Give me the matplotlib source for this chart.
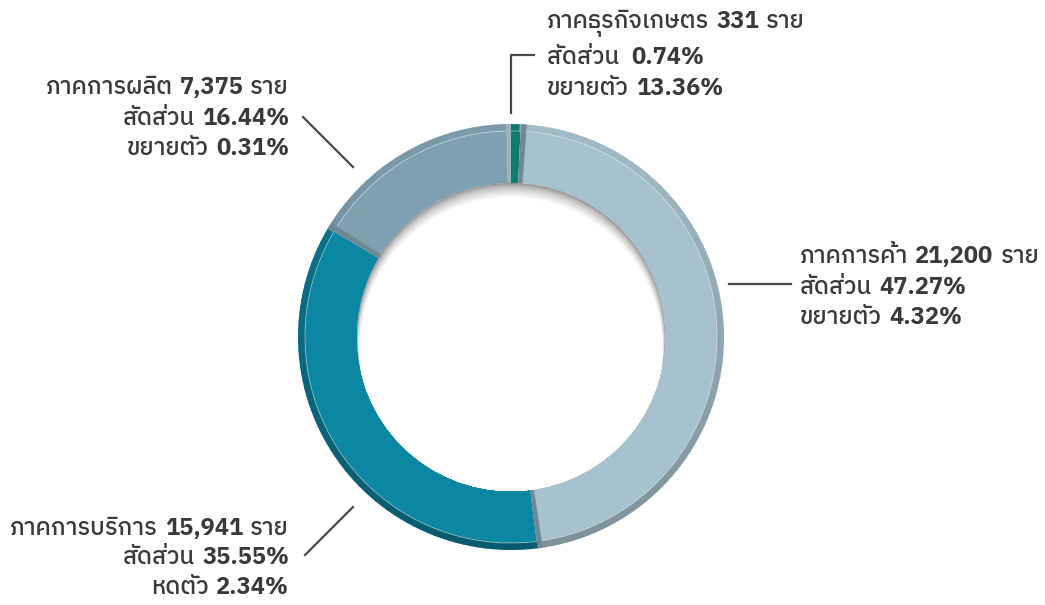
import numpy as np
import matplotlib
matplotlib.use("Agg")
import matplotlib.pyplot as plt
from matplotlib.patches import Wedge, Circle
from matplotlib.offsetbox import TextArea, HPacker, VPacker, AnnotationBbox
import matplotlib.colors as mcolors

# data, clockwise from the top
sectors = ['ภาคธุรกิจเกษตร', 'ภาคการค้า', 'ภาคการบริการ', 'ภาคการผลิต']
counts = [331, 21200, 15941, 7375]
share_txt = ['0.74%', '47.27%', '35.55%', '16.44%']
growth_word = ['ขยายตัว', 'ขยายตัว', 'หดตัว', 'ขยายตัว']
growth_txt = ['13.36%', '4.32%', '2.34%', '0.31%']
colors = ['#0e7d70', '#a6c2ce', '#0b87a3', '#7fa0b1']

W, H = 1045, 605
FONT = 'IBM Plex Sans Thai'
TXT = '#3a3a3a'
FS = 17

fig = plt.figure(figsize=(W / 100, H / 100), dpi=100)
ax = fig.add_axes([0, 0, 1, 1])
ax.set_xlim(0, W)
ax.set_ylim(0, H)
ax.axis('off')

cx, cy = 511, H - 337
r_out, r_in = 213, 154
band = 7

frac = np.array(counts) / sum(counts)
ends = np.cumsum(frac)
starts = ends - frac


def ang(c):
    return 90 - 360 * c


def shade(col, f):
    rgb = np.array(mcolors.to_rgb(col))
    return tuple(np.clip(rgb * f, 0, 1))


for i, col in enumerate(colors):
    t1, t2 = ang(ends[i]), ang(starts[i])
    ax.add_patch(Wedge((cx, cy), r_out - band, t1, t2, width=r_out - band - r_in,
                       facecolor=col, edgecolor='none'))
    # outer bevel, darker toward the bottom
    steps = max(2, int((t2 - t1) / 2))
    edges = np.linspace(t1, t2, steps + 1)
    for a, b in zip(edges[:-1], edges[1:]):
        s = np.sin(np.radians((a + b) / 2))
        f = 1 - (0.03 + 0.22 * (1 - s) / 2)
        if i == 2:
            f -= 0.08
        ax.add_patch(Wedge((cx, cy), r_out, a, b + 0.3, width=band,
                           facecolor=shade(col, f), edgecolor='none'))
    ax.add_patch(Wedge((cx, cy), r_out - band + 0.6, t1, t2, width=1.0,
                       facecolor='white', alpha=0.35, edgecolor='none'))

# side faces of the segments
side = '#6e8994'
ax.add_patch(Wedge((cx, cy), r_out, ang(starts[1]) - 1.6, ang(starts[1]), width=r_out - r_in,
                   facecolor=side, edgecolor='none'))
ax.add_patch(Wedge((cx, cy), r_out, ang(ends[1]), ang(ends[1]) + 1.4, width=r_out - r_in,
                   facecolor=side, edgecolor='none'))
ax.add_patch(Wedge((cx, cy), r_out, ang(starts[3]) - 1.6, ang(starts[3]), width=r_out - r_in,
                   facecolor=side, edgecolor='none'))
ax.add_patch(Wedge((cx, cy), r_out, ang(ends[3]), ang(ends[3]) + 1.4, width=r_out - r_in,
                   facecolor='#9db3bd', edgecolor='none'))

# hole with a soft shadow at the top
hole = Circle((cx, cy), r_in, facecolor='#8c8c8c', edgecolor='none')
ax.add_patch(hole)
n = 24
for k in range(n):
    t = (k + 1) / n
    g = 0.55 + 0.45 * t ** 0.6
    c = Circle((cx, cy - 12 * t), r_in - 2.5 * t, facecolor=(g, g, g), edgecolor='none')
    ax.add_patch(c)
    c.set_clip_path(hole)

# leader lines
lc = '#4a4a4a'
ax.plot([511, 511, 534], [H - 113, H - 55, H - 55], color=lc, lw=1.6)
ax.plot([729, 791], [H - 284, H - 284], color=lc, lw=1.6)
ax.plot([303, 353], [H - 117, H - 167], color=lc, lw=1.6)
ax.plot([305, 353], [H - 555, H - 507], color=lc, lw=1.6)


def part(s, bold):
    return TextArea(s, textprops=dict(family=[FONT, 'DejaVu Sans'], size=FS,
                                      weight='bold' if bold else 'medium', color=TXT))


def label(i, xy, align, box_al, gap='', sep=6):
    l1 = HPacker(children=[part(sectors[i], False), part(f'{counts[i]:,}', True), part('ราย', False)],
                 pad=0, sep=5, align='baseline')
    l2 = HPacker(children=[part('สัดส่วน' + gap, False), part(share_txt[i], True)],
                 pad=0, sep=5, align='baseline')
    l3 = HPacker(children=[part(growth_word[i], False), part(growth_txt[i], True)],
                 pad=0, sep=5, align='baseline')
    box = VPacker(children=[l1, l2, l3], pad=0, sep=sep, align=align)
    ab = AnnotationBbox(box, xy, xycoords='data', box_alignment=box_al, frameon=False, pad=0)
    ax.add_artist(ab)


label(0, (547, H - 10), 'left', (0, 1), gap=' ')
label(1, (800, H - 245), 'left', (0, 1), sep=5.5)
label(3, (289, H - 76), 'right', (1, 1), sep=5.5)
label(2, (289, H - 517), 'right', (1, 1), sep=4.5)

fig.savefig('out.png', dpi=100)
